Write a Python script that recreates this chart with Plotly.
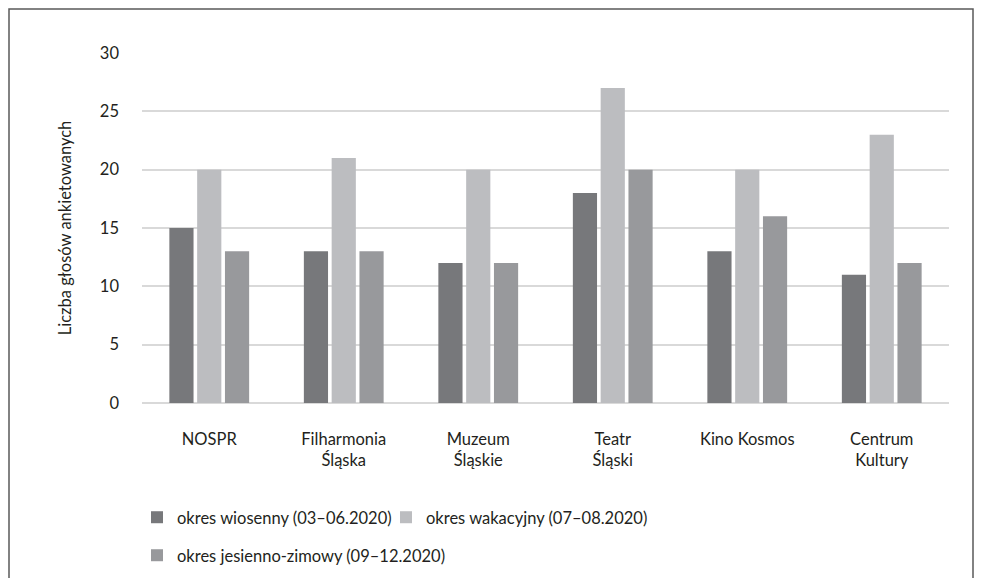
import plotly.graph_objects as go

categories = ["NOSPR", "Filharmonia<br>Śląska", "Muzeum<br>Śląskie", "Teatr<br>Śląski", "Kino Kosmos", "Centrum<br>Kultury"]
series_names = ["okres wiosenny (03–06.2020)", "okres wakacyjny (07–08.2020)", "okres jesienno-zimowy (09–12.2020)"]
spring = [15, 13, 12, 18, 13, 11]
summer = [20, 21, 20, 27, 20, 23]
autumn = [13, 13, 12, 20, 16, 12]
y_ticks = [0, 5, 10, 15, 20, 25, 30]

colors = ["#77787b", "#bcbdc0", "#98999c"]
FONT = "Lato, sans-serif"
FS = 16.5
TXT = "#231f20"

fig = go.Figure()
for name, vals, col, lg in zip(series_names, [spring, summer, autumn], colors, ["legend", "legend2", "legend3"]):
    fig.add_trace(go.Bar(x=categories, y=vals, name=name, showlegend=True,
                         marker=dict(color=col, line=dict(width=0)), legend=lg))

W, H = 983, 578
L, R, T, B = 142, 34, 53, 175
pw, ph = W - L - R, H - T - B

def px_x(x):
    return (x - L) / pw

def px_y(y):
    return (H - B - y) / ph

legend_common = dict(orientation="h", xanchor="left", yanchor="bottom", bgcolor="rgba(0,0,0,0)",
                     font=dict(family=FONT, size=FS, color=TXT), itemclick=False, visible=True)

fig.update_layout(
    width=W, height=H,
    margin=dict(l=L, r=R, t=T, b=B, autoexpand=False),
    paper_bgcolor="white", plot_bgcolor="white",
    font=dict(family=FONT, size=FS, color=TXT),
    showlegend=True,
    barmode="group", bargap=0.38, bargroupgap=0.13,
    legend=dict(x=px_x(137), y=px_y(535), **legend_common),
    legend2=dict(x=px_x(386), y=px_y(535), **legend_common),
    legend3=dict(x=px_x(137), y=px_y(573), **legend_common),
    xaxis=dict(showgrid=False, showline=False, ticks="", ticklabelstandoff=24, automargin=False,
               tickfont=dict(family=FONT, size=FS, color=TXT)),
    yaxis=dict(range=[0, 30], tickvals=y_ticks, showgrid=True, gridcolor="#d9d9d9", gridwidth=1.5,
               zeroline=True, zerolinecolor="#d9d9d9", zerolinewidth=1.5, showline=False, ticks="",
               automargin=False,
               ticklabelstandoff=22, tickfont=dict(family=FONT, size=FS, color=TXT),
               title=dict(text="Liczba głosów ankietowanych", standoff=24,
                          font=dict(family=FONT, size=FS, color=TXT))),
    shapes=[dict(type="rect", xref="paper", yref="paper",
                 x0=px_x(9), x1=px_x(973), y0=px_y(590), y1=px_y(9),
                 line=dict(color="#5a5a5a", width=1.5), fillcolor="rgba(0,0,0,0)", layer="below")],
)

fig.write_html("out.html", config={"displayModeBar": False},
               post_script="document.body.style.margin='0';")
